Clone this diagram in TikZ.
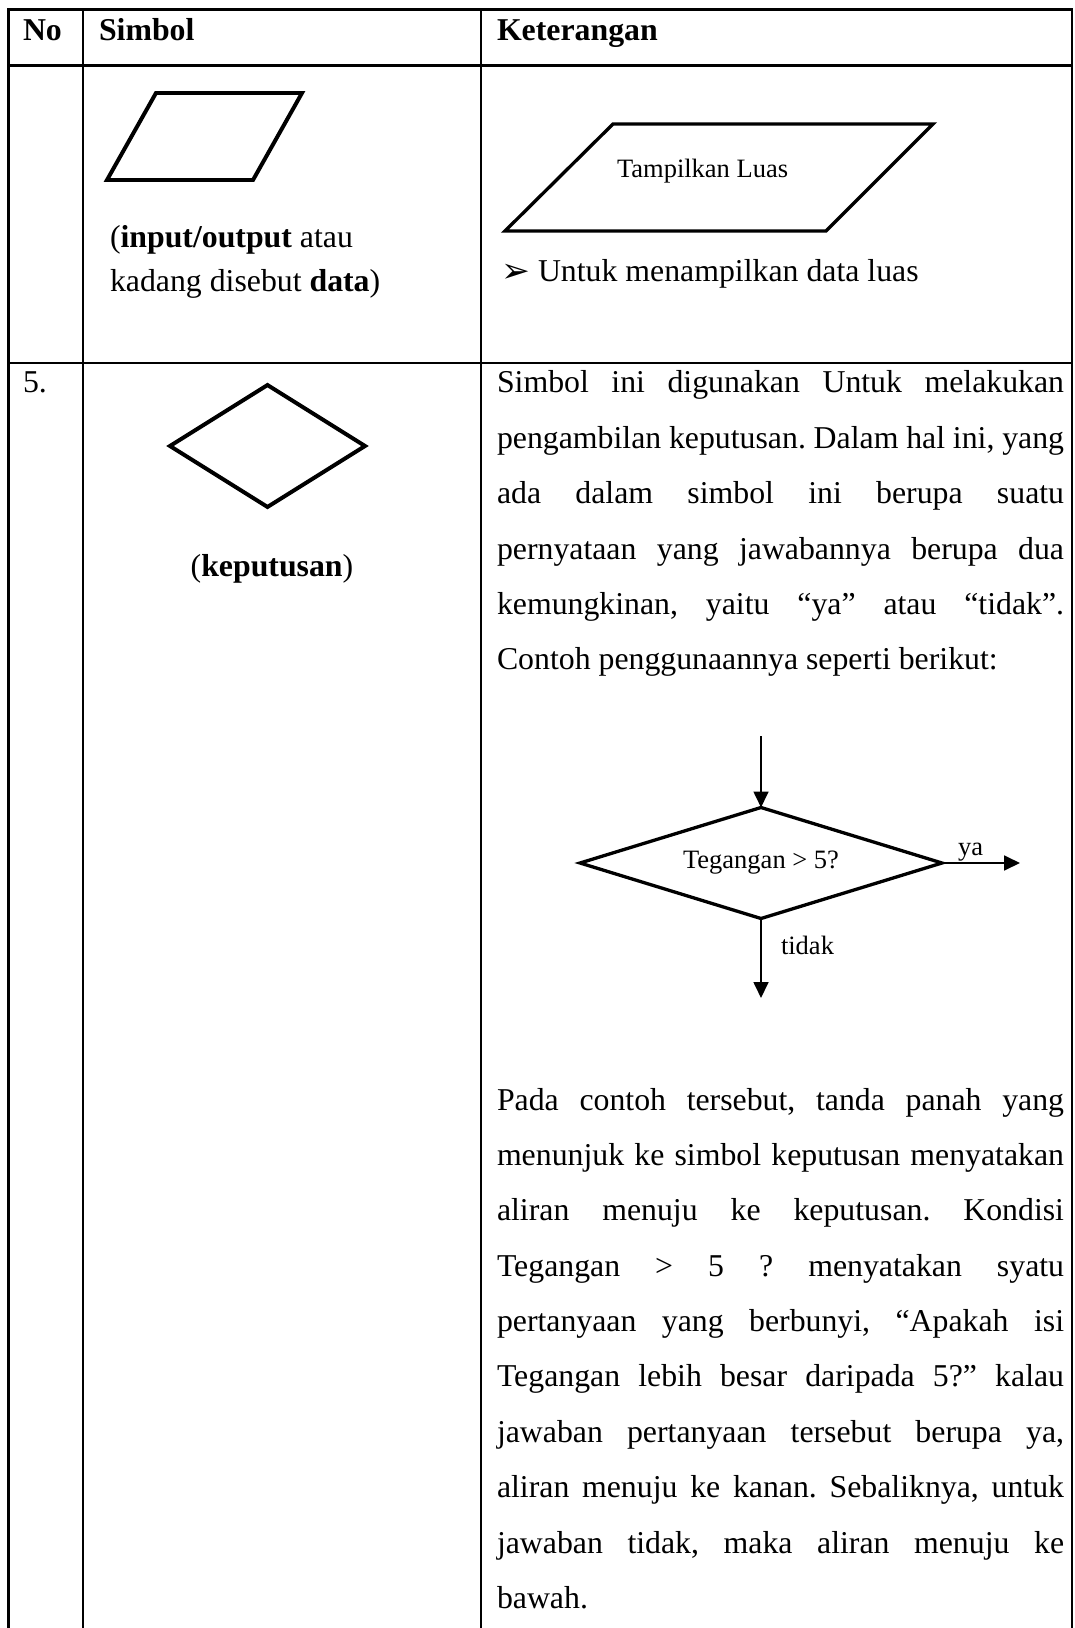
\documentclass[tikz,border=0pt]{standalone}
\usepackage{fontspec}
\setmainfont{Liberation Serif}
\newfontfamily\symfont{DejaVu Sans}
\usetikzlibrary{shapes,arrows.meta}
\frenchspacing
\newlength\parw
\setlength\parw{214pt}
\newcommand\jl[1]{{\spaceskip=0pt\xspaceskip=0pt\makebox[\parw][s]{#1}}}
\newcommand\nl[1]{{\spaceskip=0pt\xspaceskip=0pt\mbox{#1}}}

\begin{document}
\begin{tikzpicture}[x=0.3774pt,y=-0.3774pt]
\tikzstyle{every node}=[inner sep=0pt,outer sep=0pt,font=\fontsize{12}{14}\selectfont]
\tikzstyle{tbl}=[line width=1pt]
\tikzstyle{sym}=[line width=1.5pt]
\tikzstyle{hdr}=[anchor=base west,font=\fontsize{12}{14}\selectfont\bfseries]
\tikzstyle{txt}=[anchor=base west]
\tikzstyle{para}=[text width=\parw,align=left,anchor=base west,font=\fontsize{12}{20.9}\selectfont]
\tikzstyle{small}=[font=\fontsize{10}{12}\selectfont]
\tikzstyle{dec}=[diamond,draw,aspect=3]
\tikzstyle{flow}=[line width=0.75pt,-{Triangle[length=6pt,width=5.6pt]}]
\useasboundingbox (0,0) rectangle (1075,1628);
\draw[tbl] (8.5,1628) -- (8.5,9.5) -- (1072,9.5) -- (1072,1628);
\draw[tbl] (8.5,65.5) -- (1072,65.5);
\draw[tbl] (8.5,363) -- (1072,363);
\draw[tbl] (83,9.5) -- (83,1628);
\draw[tbl] (481,9.5) -- (481,1628);
\node[hdr] (no) at (23,41) {No};
\node[hdr] (simbol) at (99,41) {Simbol};
\node[hdr] (ket) at (497,41) {Keterangan};
\draw[sym] (156,93) -- (302,93) -- (253,180) -- (107,180) -- cycle;
\node[txt,text width=120pt,align=left,font=\fontsize{12}{16.6}\selectfont] (io) at (110,248)
  {\nl{(\textbf{input/output} atau}\\\nl{kadang disebut \textbf{data})}};
\draw[line width=1.25pt] (613,124) -- (933,124) -- (826,231) -- (505,231) -- cycle;
\node[txt,small] (luas) at (617,178) {Tampilkan Luas};
\node[txt,font=\symfont\fontsize{13}{13}\selectfont] (panah) at (501,283) {➢};
\node[txt] (untuk) at (538,282) {Untuk menampilkan data luas};
\node[txt] (nomor) at (23,393) {5.};
\node[dec,sym,minimum width=73.6pt,minimum height=46pt] (kep) at (267.5,446) {};
\node[anchor=base] (kepket) at (272,577) {(\textbf{keputusan})};
\node[para] (ket5a) at (497,393) {\jl{Simbol ini digunakan Untuk melakukan}\\
  \jl{pengambilan keputusan. Dalam hal ini, yang}\\
  \jl{ada dalam simbol ini berupa suatu}\\
  \jl{pernyataan yang jawabannya berupa dua}\\
  \jl{kemungkinan, yaitu “ya” atau “tidak”.}\\
  \nl{Contoh penggunaannya seperti berikut:}};
\node[dec,small,line width=1.25pt,minimum width=136.6pt,minimum height=41.9pt] (teg) at (761,863) {Tegangan > 5?};
\coordinate (masuk) at (761,736);
\coordinate (kanan) at (1020,863);
\coordinate (turun) at (761,998);
\draw[flow] (masuk) -- (teg.north);
\draw[flow] (teg.east) -- (kanan);
\draw[flow] (teg.south) -- (turun);
\node[txt,small] (ya) at (958,855) {ya};
\node[txt,small] (tidak) at (781,954) {tidak};
\node[para] (ket5b) at (497,1110) {\jl{Pada contoh tersebut, tanda panah yang}\\
  \jl{menunjuk ke simbol keputusan menyatakan}\\
  \jl{aliran menuju ke keputusan. Kondisi}\\
  \jl{Tegangan > 5 ? menyatakan syatu}\\
  \jl{pertanyaan yang berbunyi, “Apakah isi}\\
  \jl{Tegangan lebih besar daripada 5?” kalau}\\
  \jl{jawaban pertanyaan tersebut berupa ya,}\\
  \jl{aliran menuju ke kanan. Sebaliknya, untuk}\\
  \jl{jawaban tidak, maka aliran menuju ke}\\
  \nl{bawah.}};
\end{tikzpicture}
\end{document}
